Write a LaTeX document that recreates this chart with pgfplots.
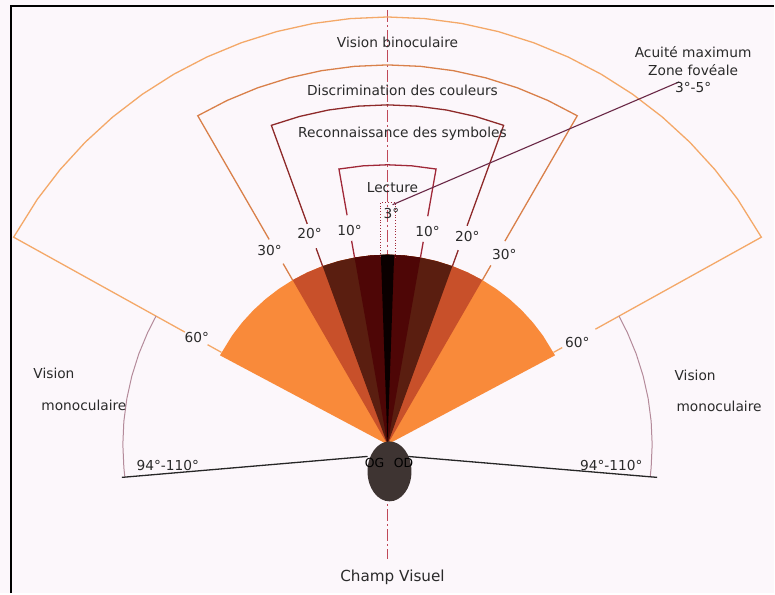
\documentclass[border=0pt]{standalone}
\usepackage{pgfplots}
\pgfplotsset{compat=1.18}
\usepackage{fontspec}
\setmainfont{DejaVu Sans}

\definecolor{bg}{HTML}{FCF7FB}
\definecolor{txt}{HTML}{2A2A2A}
\definecolor{wOrange}{HTML}{F98A3A}
\definecolor{wRed}{HTML}{C8502A}
\definecolor{wBrown}{HTML}{5A1E10}
\definecolor{wMaroon}{HTML}{4E0606}
\definecolor{wBlack}{HTML}{0A0000}
\definecolor{binoc}{HTML}{F4A868}
\definecolor{discr}{HTML}{D9804A}
\definecolor{recon}{HTML}{8E2A2A}
\definecolor{lect}{HTML}{A02838}
\definecolor{mono}{HTML}{B48A9A}
\definecolor{axisred}{HTML}{C04858}
\definecolor{annot}{HTML}{6B2A48}
\definecolor{eye}{HTML}{3E3432}

\tikzset{lbl/.style={font=\fontsize{13.8}{16}\selectfont, text=txt, inner sep=0pt}}

\begin{document}
\begin{tikzpicture}
\begin{axis}[
    width=775bp, height=594bp, scale only axis,
    xmin=-388, xmax=387, ymin=-149, ymax=445,
    hide axis, clip=false,
]
% background and frame
\fill[bg] (rel axis cs:0,0) rectangle (rel axis cs:1,1);
\draw[black, line width=2bp] (axis cs:-377,-149) -- (axis cs:-377,439) -- (axis cs:387,439);

% vertical axis of the visual field
\addplot[axisred, line width=1bp, dash pattern=on 12bp off 3bp on 2bp off 3bp]
    coordinates {(0,435)(0,-115)};

% sectors (angle, radius)
\addplot[data cs=polar, draw=none, fill=wOrange] coordinates {
    (0,0)(28,190)(35,190)(40,190)(45,190)(50,190)(55,190)(60,190)(65,190)(70,190)(75,190)
    (80,190)(85,190)(90,190)(95,190)(100,190)(105,190)(110,190)(115,190)(120,190)(125,190)
    (130,190)(135,190)(140,190)(145,190)(152,190)};
\addplot[data cs=polar, draw=none, fill=wRed] coordinates {
    (0,0)(60,190)(65,190)(70,190)(75,190)(80,190)(85,190)(90,190)(95,190)(100,190)
    (105,190)(110,190)(115,190)(120,190)};
\addplot[data cs=polar, draw=none, fill=wBrown] coordinates {
    (0,0)(70,190)(75,190)(80,190)(85,190)(90,190)(95,190)(100,190)(105,190)(110,190)};
\addplot[data cs=polar, draw=none, fill=wMaroon] coordinates {
    (0,0)(80,190)(85,190)(90,190)(95,190)(100,190)};
\addplot[data cs=polar, draw=none, fill=wBlack] coordinates {
    (0,0)(88,190)(90,190)(92,190)};

% vision binoculaire (60 deg)
\addplot[data cs=polar, binoc, line width=1.3bp] coordinates {
    (151,232)(151,428)(145,428)(140,428)(135,428)(130,428)(125,428)(120,428)(115,428)
    (110,428)(105,428)(100,428)(95,428)(90,428)(85,428)(80,428)(75,428)(70,428)(65,428)
    (60,428)(55,428)(50,428)(45,428)(40,428)(35,428)(29,428)(29,238)};
\addplot[data cs=polar, binoc, line width=1.3bp] coordinates {(151,206)(151,190)};
\addplot[data cs=polar, binoc, line width=1.3bp] coordinates {(29,200)(29,190)};

% discrimination des couleurs (30 deg)
\addplot[data cs=polar, discr, line width=1.3bp] coordinates {
    (120,237)(120,380)(115,380)(110,380)(105,380)(100,380)(95,380)(90,380)(85,380)
    (80,380)(75,380)(70,380)(65,380)(60,380)(60,235)};
\addplot[data cs=polar, discr, line width=1.3bp] coordinates {(120,209)(120,190)};
\addplot[data cs=polar, discr, line width=1.3bp] coordinates {(60,207)(60,190)};

% reconnaissance des symboles (20 deg)
\addplot[data cs=polar, recon, line width=1.3bp] coordinates {
    (110,235)(110,340)(105,340)(100,340)(95,340)(90,340)(85,340)(80,340)(75,340)
    (70,340)(70,233)};
\addplot[data cs=polar, recon, line width=1.3bp] coordinates {(110,209)(110,190)};
\addplot[data cs=polar, recon, line width=1.3bp] coordinates {(70,207)(70,190)};

% lecture (10 deg)
\addplot[data cs=polar, lect, line width=1.3bp] coordinates {
    (100,233)(100,280)(95,280)(90,280)(85,280)(80,280)(80,232)};
\addplot[data cs=polar, lect, line width=1.3bp] coordinates {(100,207)(100,190)};
\addplot[data cs=polar, lect, line width=1.3bp] coordinates {(80,206)(80,190)};

% zone foveale (dotted)
\addplot[lect, line width=0.8bp, dotted] coordinates {(-7,188)(-7,242)(8,242)(8,188)};

% vision monoculaire
\addplot[data cs=polar, mono, line width=1bp] coordinates {
    (151,265)(155,265)(160,265)(165,265)(170,265)(175,265)(180,265)(185,265)(187,265)};
\addplot[data cs=polar, mono, line width=1bp] coordinates {
    (29,265)(25,265)(20,265)(15,265)(10,265)(5,265)(0,265)(-5,265)(-7,265)};
\addplot[black!85, line width=1.3bp] coordinates {(-266,-33)(-20,-12)};
\addplot[black!85, line width=1.3bp] coordinates {(270,-33)(20,-12)};

% annotation line
\addplot[annot, line width=1.1bp] coordinates {(5,240)(292,363)};

% eyes
\fill[eye] (axis cs:2,-27) ellipse [x radius=22bp, y radius=30bp];

% labels
\node[lbl] at (axis cs:10,403) {Vision binoculaire};
\node[lbl] at (axis cs:15,354) {Discrimination des couleurs};
\node[lbl] at (axis cs:15,311) {Reconnaissance des symboles};
\node[lbl] at (axis cs:5,257) {Lecture};
\node[lbl] at (axis cs:4,231) {3°};
\node[lbl] at (axis cs:306,393) {Acuité maximum};
\node[lbl] at (axis cs:306,375) {Zone fovéale};
\node[lbl] at (axis cs:306,357) {3°-5°};
\node[lbl] at (axis cs:-38,214) {10°};
\node[lbl] at (axis cs:40,213) {10°};
\node[lbl] at (axis cs:-78,211) {20°};
\node[lbl] at (axis cs:80,208) {20°};
\node[lbl] at (axis cs:-118,194) {30°};
\node[lbl] at (axis cs:117,190) {30°};
\node[lbl] at (axis cs:-191,107) {60°};
\node[lbl] at (axis cs:190,102) {60°};
\node[lbl] at (axis cs:-334,71) {Vision};
\node[lbl] at (axis cs:-304,39) {monoculaire};
\node[lbl] at (axis cs:308,69) {Vision};
\node[lbl] at (axis cs:332,38) {monoculaire};
\node[lbl] at (axis cs:-220,-21) {94°-110°};
\node[lbl] at (axis cs:224,-21) {94°-110°};
\node[lbl, font=\fontsize{12.5}{14}\selectfont, text=black] at (axis cs:-13,-19) {OG};
\node[lbl, font=\fontsize{12.5}{14}\selectfont, text=black] at (axis cs:16,-19) {OD};
\node[lbl, font=\fontsize{15.3}{18}\selectfont] at (axis cs:5,-133) {Champ Visuel};
\end{axis}
\end{tikzpicture}
\end{document}
